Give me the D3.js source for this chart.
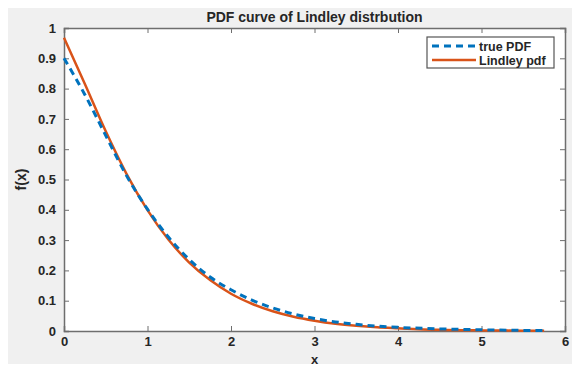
<!DOCTYPE html>
<html>
<head>
<meta charset="utf-8">
<script src="https://cdn.jsdelivr.net/npm/d3@7"></script>
<style>
  body { margin: 0; background: #fff; }
  text { font-family: "Liberation Sans", Arial, sans-serif; fill: #262626; }
</style>
</head>
<body>
<div class="pdfChart"></div>
<script>
// values
const xs = [0, 0.25, 0.5, 0.75, 1, 1.25, 1.5, 1.75, 2, 2.25, 2.5, 2.75, 3, 3.25, 3.5, 3.75, 4, 4.5, 5, 5.5, 5.75];
const truePdf = [0.900, 0.780, 0.645, 0.512, 0.402, 0.310, 0.236, 0.178, 0.136, 0.102, 0.076, 0.056, 0.041, 0.030, 0.022, 0.016, 0.012, 0.007, 0.004, 0.002, 0.0015];
const lindleyPdf = [0.968, 0.815, 0.659, 0.518, 0.399, 0.302, 0.226, 0.168, 0.123, 0.090, 0.065, 0.047, 0.034, 0.024, 0.017, 0.012, 0.009, 0.004, 0.002, 0.001, 0.0008];
const xTicks = [0, 1, 2, 3, 4, 5, 6];
const yTicks = [0, 0.1, 0.2, 0.3, 0.4, 0.5, 0.6, 0.7, 0.8, 0.9, 1];
const seriesNames = ["true PDF", "Lindley pdf"];

const W = 576, H = 367;
const margin = { top: 28, right: 11, bottom: 36, left: 64 };
const width = W - margin.left - margin.right;
const height = H - margin.top - margin.bottom;

const blue = "#0072BD", orange = "#D95319", axisColor = "#6e6e6e";

const svg = d3.select(".pdfChart").append("svg")
    .attr("width", W)
    .attr("height", H);

// figure background
svg.append("rect").attr("x", 8).attr("y", 8).attr("width", 564).attr("height", 356).attr("fill", "#f0f0f0");

const g = svg.append("g").attr("transform", "translate(" + margin.left + "," + margin.top + ")");

const x = d3.scaleLinear().domain([0, 6]).range([0, width]);
const y = d3.scaleLinear().domain([0, 1]).range([height, 0]);

g.append("rect").attr("width", width).attr("height", height).attr("fill", "#fff");

const xAxis = d3.axisBottom(x).tickValues(xTicks).tickSize(-5).tickPadding(6).tickFormat(d3.format("d"));
const yAxis = d3.axisLeft(y).tickValues(yTicks).tickSize(-5).tickPadding(8).tickFormat(d => d === 0 || d === 1 ? d : d3.format(".1f")(d));
const xTop = d3.axisTop(x).tickValues(xTicks).tickSize(-5).tickFormat("");
const yRight = d3.axisRight(y).tickValues(yTicks).tickSize(-5).tickFormat("");

function styleAxis(sel) {
    sel.select(".domain").attr("stroke", axisColor).attr("stroke-width", 1.5);
    sel.selectAll(".tick line").attr("stroke", axisColor);
    sel.selectAll("text").style("font-size", "13px").style("font-weight", "bold")
        .style("font-family", "'Liberation Sans', Arial, sans-serif").attr("fill", "#333");
}

g.append("g").attr("transform", "translate(0," + height + ")").call(xAxis).call(styleAxis);
g.append("g").call(yAxis).call(styleAxis);
g.append("g").call(xTop).call(styleAxis);
g.append("g").attr("transform", "translate(" + width + ",0)").call(yRight).call(styleAxis);

const line = d3.line().x(d => x(d[0])).y(d => y(d[1])).curve(d3.curveMonotoneX);

g.append("path")
    .datum(xs.map((v, i) => [v, lindleyPdf[i]]))
    .attr("fill", "none").attr("stroke", orange).attr("stroke-width", 2.5)
    .attr("d", line);

g.append("path")
    .datum(xs.map((v, i) => [v, truePdf[i]]))
    .attr("fill", "none").attr("stroke", blue).attr("stroke-width", 3)
    .attr("stroke-dasharray", "7,5")
    .attr("d", line);

// title and labels
svg.append("text").attr("x", margin.left + width / 2).attr("y", 22)
    .attr("text-anchor", "middle").style("font-size", "14px").style("font-weight", "bold")
    .text("PDF curve of Lindley distrbution");
svg.append("text").attr("x", margin.left + width / 2).attr("y", 364)
    .attr("text-anchor", "middle").style("font-size", "13px").style("font-weight", "bold")
    .text("x");
svg.append("text").attr("transform", "translate(26," + (margin.top + height / 2) + ") rotate(-90)")
    .attr("text-anchor", "middle").style("font-size", "14px").style("font-weight", "bold")
    .text("f(x)");

// legend
const lg = svg.append("g").attr("transform", "translate(427,37)");
lg.append("rect").attr("width", 127).attr("height", 31).attr("fill", "#fff")
    .attr("stroke", "#555").attr("stroke-width", 1.2);
const entries = [
    { name: seriesNames[0], color: blue, dash: "7,5", w: 3 },
    { name: seriesNames[1], color: orange, dash: null, w: 2.5 }
];
entries.forEach((e, i) => {
    const yy = 9 + i * 14;
    lg.append("line").attr("x1", 5).attr("x2", 49).attr("y1", yy).attr("y2", yy)
        .attr("stroke", e.color).attr("stroke-width", e.w)
        .attr("stroke-dasharray", e.dash);
    lg.append("text").attr("x", 52).attr("y", yy + 4.5)
        .style("font-size", "12.5px").style("font-weight", "bold").text(e.name);
});
</script>
</body>
</html>
